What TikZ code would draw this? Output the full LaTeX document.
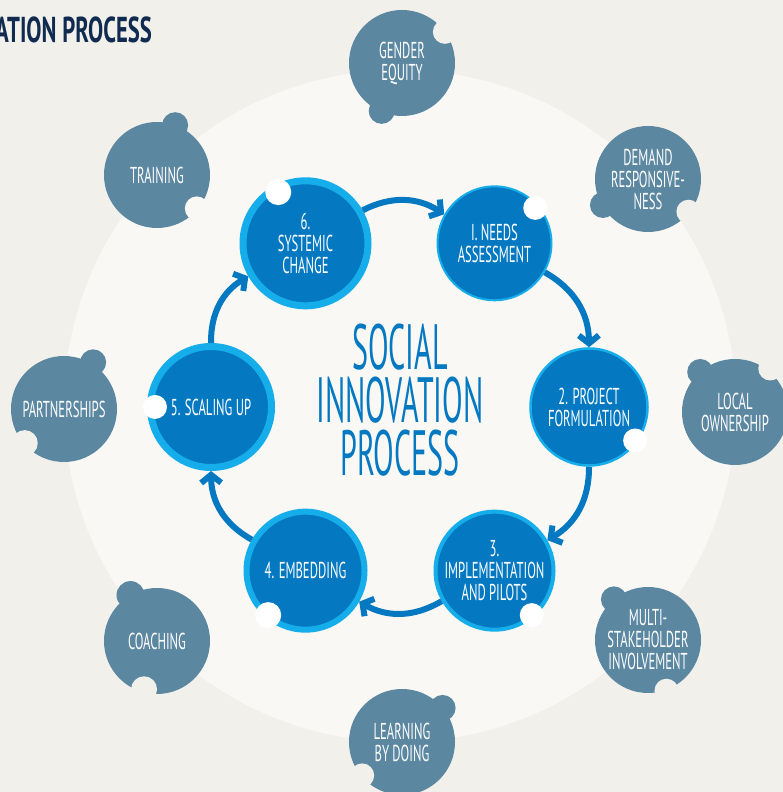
\documentclass[tikz,border=0pt]{standalone}
\usepackage{fontspec}
\setmainfont{PT Sans}[FakeStretch=0.55]
\newfontfamily\bigfont{PT Sans}[FakeStretch=0.47]
\newfontfamily\headfont{PT Sans}[FakeStretch=0.63]
\usepackage{tikz}
\usetikzlibrary{arrows.meta}
\definecolor{backgr}{HTML}{F1F0EB}
\definecolor{ringbg}{HTML}{F9F8F5}
\definecolor{stepblue}{HTML}{0479C1}
\definecolor{rimblue}{HTML}{16AEEA}
\definecolor{pillarblue}{HTML}{5B87A1}
\definecolor{navy}{HTML}{102A50}

\begin{document}
\begin{tikzpicture}[x=1pt, y=1pt,
    stage/.style={circle, fill=stepblue, draw=rimblue, inner sep=-8pt, text=white,
        align=center, font=\fontsize{23}{22}\selectfont},
    pillar/.style={circle, fill=pillarblue, inner sep=-8pt, minimum size=106pt, text=white,
        align=center, font=\fontsize{23}{22}\selectfont},
    flow/.style={stepblue, line width=6pt, -{Straight Barb[length=8pt, width=20pt]}}]
    \fill[backgr] (0,0) rectangle (783,792);
    \useasboundingbox (0,0) rectangle (783,792);
    \coordinate (hub) at (400,385);
    \fill[ringbg] (400,386) circle (336);

    \node[anchor=base west, text=navy, inner sep=0pt,
        font=\headfont\bfseries\fontsize{36}{36}\selectfont] (head) at (-5,749) {ATION PROCESS};

    \node[pillar] (gender) at (402,729) {GENDER\\EQUITY};
    \fill[pillarblue] ([shift={(-113:52)}]gender.center) circle (13);
    \fill[backgr] ([shift={(36:53)}]gender.center) circle (12);

    \node[pillar] (demand) at (648,613) {DEMAND\\RESPONSIVE-\\NESS};
    \fill[pillarblue] ([shift={(-150:52)}]demand.center) circle (13);
    \fill[backgr] ([shift={(-39:52)}]demand.center) circle (12);

    \node[pillar] (local) at (735,380) {LOCAL\\OWNERSHIP};
    \fill[pillarblue] ([shift={(131:53)}]local.center) circle (13);
    \fill[backgr] ([shift={(51:56)}]local.center) circle (12);

    \node[pillar] (multi) at (648,152) {MULTI-\\STAKEHOLDER\\INVOLVEMENT};
    \fill[pillarblue] ([shift={(130:53)}]multi.center) circle (13);
    \fill[backgr] ([shift={(-70:54)}]multi.center) circle (12);

    \node[pillar] (learning) at (402,50) {LEARNING\\BY DOING};
    \fill[pillarblue] ([shift={(40:53)}]learning.center) circle (13);
    \fill[backgr] ([shift={(-140:52)}]learning.center) circle (12);

    \node[pillar] (coaching) at (157,151) {COACHING};
    \fill[pillarblue] ([shift={(120:53)}]coaching.center) circle (14);
    \fill[backgr] ([shift={(-105:50)}]coaching.center) circle (13);

    \node[pillar] (partner) at (64,383) {PARTNERSHIPS};
    \fill[pillarblue] ([shift={(58:55)}]partner.center) circle (13);
    \fill[backgr] ([shift={(-139:52)}]partner.center) circle (13);

    \node[pillar] (training) at (157,617) {TRAINING};
    \fill[pillarblue] ([shift={(70:53)}]training.center) circle (13);
    \fill[ringbg] ([shift={(-40:52)}]training.center) circle (12);

    \node[stage, minimum size=125pt, line width=7pt] (six) at ([shift={(120:189)}]hub) {6.\\SYSTEMIC\\CHANGE};
    \node[stage, minimum size=114pt, line width=2pt] (one) at ([shift={(60:189)}]hub) {I. NEEDS\\ASSESSMENT};
    \node[stage, minimum size=117pt, line width=2.5pt] (two) at ([shift={(0:189)}]hub) {2. PROJECT\\FORMULATION};
    \node[stage, minimum size=118pt, line width=4pt] (three) at ([shift={(-60:189)}]hub) {3.\\IMPLEMENTATION\\AND PILOTS};
    \node[stage, minimum size=118pt, line width=6pt] (four) at ([shift={(-120:189)}]hub) {4. EMBEDDING};
    \node[stage, minimum size=121pt, line width=7pt] (five) at ([shift={(180:189)}]hub) {5. SCALING UP};

    \fill[white] ([shift={(118:58)}]six.center) circle (13);
    \fill[white] ([shift={(41:54)}]one.center) circle (12);
    \fill[white] ([shift={(-36:57)}]two.center) circle (12);
    \fill[white] ([shift={(-50:58)}]three.center) circle (12);
    \fill[white] ([shift={(-130:58)}]four.center) circle (13);
    \fill[white] ([shift={(180:56)}]five.center) circle (12);

    \draw[flow] (six) to[bend left=30] (one);
    \draw[flow] (one) to[bend left=30] (two);
    \draw[flow] (two) to[bend left=30] (three);
    \draw[flow] (three) to[bend left=30] (four);
    \draw[flow] (four) to[bend left=30] (five);
    \draw[flow] (five) to[bend left=30] (six);

    \node[text=stepblue, align=center, font=\bigfont\fontsize{64}{53}\selectfont] (title) at (400,392)
        {SOCIAL\\INNOVATION\\PROCESS};
\end{tikzpicture}
\end{document}
